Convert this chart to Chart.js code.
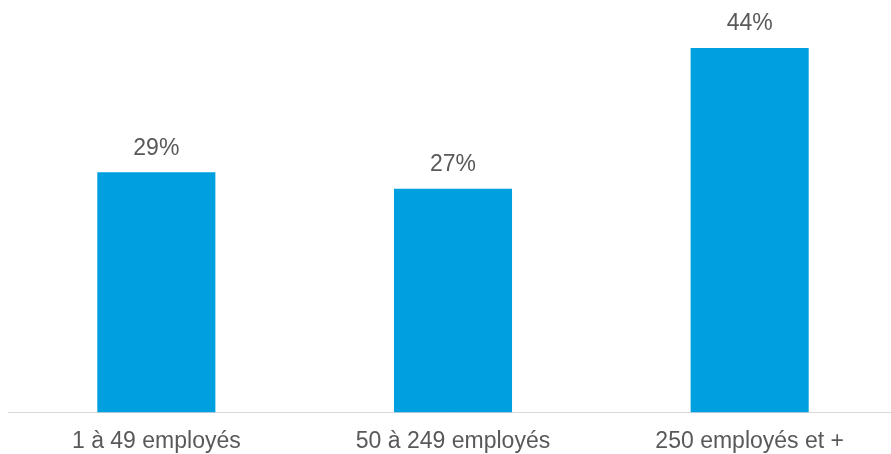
<!DOCTYPE html>
<html>
<head>
<meta charset="utf-8">
<script src="https://cdn.jsdelivr.net/npm/chart.js@4/dist/chart.umd.min.js"></script>
<style>
  html, body { margin: 0; padding: 0; background: #fff; overflow: hidden; }
  #wrap { width: 891px; height: 454px; overflow: hidden; }
</style>
</head>
<body>
<div id="wrap"><canvas id="myChart" width="898" height="470"></canvas></div>
<script>
var categories = ["1 à 49 employés", "50 à 249 employés", "250 employés et +"];
var values = [29, 27, 44];

var textColor = '#595959';
var fontFamily = '"Liberation Sans", Arial, sans-serif';

// labels above bars
var valueLabels = {
    id: 'valueLabels',
    afterDatasetsDraw: function (chart) {
        var ctx = chart.ctx;
        var meta = chart.getDatasetMeta(0);
        ctx.save();
        ctx.font = '23px ' + fontFamily;
        ctx.fillStyle = textColor;
        ctx.textAlign = 'center';
        ctx.textBaseline = 'middle';
        meta.data.forEach(function (bar, i) {
            ctx.fillText(values[i] + '%', bar.x, bar.y - 24);
        });
        ctx.restore();
    }
};

var ctx = document.getElementById('myChart').getContext('2d');
var chart = new Chart(ctx, {
    type: 'bar',
    data: {
        labels: categories,
        datasets: [{
            data: values,
            backgroundColor: '#009FDF',
            borderWidth: 0,
            categoryPercentage: 1,
            barPercentage: 0.398
        }]
    },
    options: {
        responsive: false,
        animation: false,
        layout: { padding: { left: 8, top: 0, right: 0, bottom: 0 } },
        plugins: {
            legend: { display: false },
            tooltip: { enabled: false }
        },
        scales: {
            x: {
                grid: { display: false, drawTicks: false },
                border: { display: true, color: '#d9d9d9', width: 1 },
                ticks: {
                    color: textColor,
                    font: { family: fontFamily, size: 23 },
                    padding: 15,
                    maxRotation: 0,
                    autoSkip: false
                }
            },
            y: {
                display: false,
                min: 0,
                max: 49.8
            }
        }
    },
    plugins: [valueLabels]
});
</script>
</body>
</html>
